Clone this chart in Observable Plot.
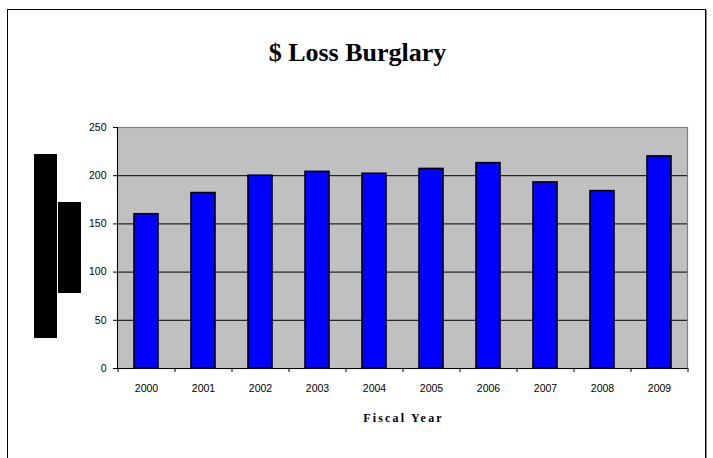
<!DOCTYPE html>
<html>
<head>
<meta charset="utf-8">
<script src="https://cdn.jsdelivr.net/npm/d3@7"></script>
<script src="https://cdn.jsdelivr.net/npm/@observablehq/plot@0.6"></script>
<style>
  html, body { margin: 0; padding: 0; background: #fff; }
  #wrap { position: relative; width: 713px; height: 458px; overflow: hidden; background: #fff; }
  #border { position: absolute; left: 7px; top: 9px; width: 699px; height: 470px; border: 1.5px solid #000; box-sizing: border-box; box-shadow: 1px 1px 0 #888; }
  #title { position: absolute; left: 0; top: 38px; width: 715px; text-align: center; font-family: "Liberation Serif", "Times New Roman", serif; font-weight: bold; font-size: 26px; color: #000; }
  .redact { position: absolute; background: #000; }
  #chart { position: absolute; left: 0; top: 0; }
</style>
</head>
<body>
<div id="wrap">
  <div id="border"></div>
  <div id="title">$ Loss Burglary</div>
  <div class="redact" style="left:34px;top:154px;width:23px;height:184px;"></div>
  <div class="redact" style="left:58px;top:202px;width:23px;height:91px;"></div>
  <div id="chart"></div>
</div>
<script>
const years = ["2000", "2001", "2002", "2003", "2004", "2005", "2006", "2007", "2008", "2009"];
const losses = [160, 182, 200, 204, 202, 207, 213, 193, 184, 220];
const yTicks = [0, 50, 100, 150, 200, 250];
const gridTicks = [50, 100, 150, 200];
const xTitle = "Fiscal Year";

const data = years.map((year, i) => ({year, loss: losses[i]}));
const halfStep = 28.5;

const chart = Plot.plot({
  width: 713,
  height: 458,
  marginLeft: 117,
  marginRight: 26,
  marginTop: 127,
  marginBottom: 90,
  style: {fontFamily: "'Liberation Sans', Arial, sans-serif", fontSize: "10.5px", color: "#000", background: "transparent", overflow: "visible"},
  x: {domain: years, paddingInner: 0.58, paddingOuter: 0.29, align: 0.5, label: null},
  y: {domain: [0, 250], label: null},
  marks: [
    Plot.frame({fill: "#c0c0c0", stroke: null}),
    Plot.gridY(gridTicks, {stroke: "#000", strokeOpacity: 1}),
    Plot.frame({stroke: "#808080", strokeWidth: 1.2}),
    Plot.barY(data, {x: "year", y: "loss", fill: "#0000ff", stroke: "#000", strokeWidth: 1.6}),
    Plot.frame({anchor: "left", stroke: "#000"}),
    Plot.ruleY([0], {stroke: "#000"}),
    Plot.axisY(yTicks, {tickSize: 4, tickPadding: 7, stroke: "#000", fontSize: 10.5, label: null}),
    Plot.axisX({tickSize: 0, tickPadding: 16, fontSize: 10.5, label: null}),
    Plot.axisX({text: null, tickSize: 4, dx: -halfStep, stroke: "#000", label: null}),
    Plot.axisX([years[years.length - 1]], {text: null, tickSize: 4, dx: halfStep, stroke: "#000", label: null}),
    Plot.text([xTitle], {text: d => d, frameAnchor: "bottom", dy: 53, dx: 1, fontFamily: "'Liberation Serif', 'Times New Roman', serif", fontWeight: "bold", fontSize: 12, fill: "#000"})
  ]
});
d3.select(chart).selectAll("text").filter(function() { return this.textContent === xTitle; }).style("letter-spacing", "2.2px");
document.getElementById("chart").appendChild(chart);
</script>
</body>
</html>
